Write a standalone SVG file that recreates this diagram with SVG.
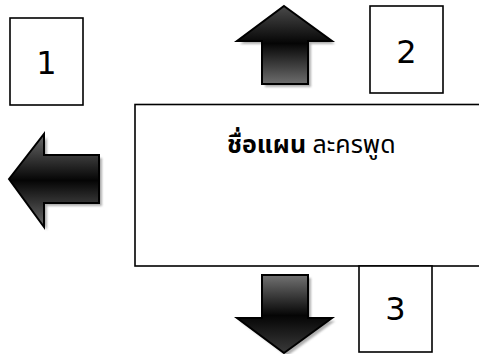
<svg xmlns="http://www.w3.org/2000/svg" width="479" height="354" viewBox="0 0 479 354">
<style>
.box{fill:#fff;stroke:#000;stroke-width:1.6}
.num{font-family:"DejaVu Sans","Noto Sans",sans-serif;font-size:32px;fill:#000;text-anchor:middle}
.arrow{stroke:#000;stroke-width:2;stroke-linejoin:miter}
.shadow{fill:#9a9a9a;opacity:0.8}
.title{font-family:"Noto Sans Thai","Noto Sans","DejaVu Sans",sans-serif;font-size:25px;fill:#000}
</style>
<defs>
<linearGradient id="gUp" x1="0" y1="6" x2="0" y2="84" gradientUnits="userSpaceOnUse">
<stop offset="0" stop-color="#4a4a4a"/><stop offset="0.48" stop-color="#050505"/><stop offset="1" stop-color="#6e6e6e"/>
</linearGradient>
<linearGradient id="gDown" x1="0" y1="353" x2="0" y2="275" gradientUnits="userSpaceOnUse">
<stop offset="0" stop-color="#3a3a3a"/><stop offset="0.48" stop-color="#050505"/><stop offset="1" stop-color="#727272"/>
</linearGradient>
<linearGradient id="gLeft" x1="0" y1="134" x2="0" y2="227" gradientUnits="userSpaceOnUse">
<stop offset="0" stop-color="#6a6a6a"/><stop offset="0.5" stop-color="#050505"/><stop offset="1" stop-color="#6a6a6a"/>
</linearGradient>
<filter id="blur" x="-10%" y="-10%" width="120%" height="120%"><feGaussianBlur stdDeviation="0.8"/></filter>
</defs>

<g id="main">
<rect class="box" x="135" y="104.5" width="360" height="161.5"/>
<text class="title" x="227" y="153"><tspan font-weight="bold">ชื่อแผน</tspan> ละครพูด</text>
</g>

<g id="box1">
<rect class="box" x="10" y="18" width="73" height="87"/>
<text class="num" x="46.5" y="74">1</text>
</g>

<g id="box2">
<rect class="box" x="370" y="6" width="73" height="87"/>
<text class="num" x="406.5" y="63">2</text>
</g>

<g id="box3">
<rect class="box" x="359" y="266" width="73" height="86"/>
<text class="num" x="395.5" y="320">3</text>
</g>

<g id="connectors">
<g id="arrow-up">
<polygon class="shadow" filter="url(#blur)" transform="translate(3,3)" points="284,6 332,41 308,41 308,84 262,84 262,41 237,41"/>
<polygon class="arrow" fill="url(#gUp)" points="284,6 332,41 308,41 308,84 262,84 262,41 237,41"/>
</g>
<g id="arrow-left">
<polygon class="shadow" filter="url(#blur)" transform="translate(3,3)" points="9,179 44,134 44,155 99,155 99,203 44,203 44,227"/>
<polygon class="arrow" fill="url(#gLeft)" points="9,179 44,134 44,155 99,155 99,203 44,203 44,227"/>
</g>
<g id="arrow-down">
<polygon class="shadow" filter="url(#blur)" transform="translate(3,3)" points="284,353 332,318 308,318 308,275 262,275 262,318 237,318"/>
<polygon class="arrow" fill="url(#gDown)" points="284,353 332,318 308,318 308,275 262,275 262,318 237,318"/>
</g>
</g>
</svg>
